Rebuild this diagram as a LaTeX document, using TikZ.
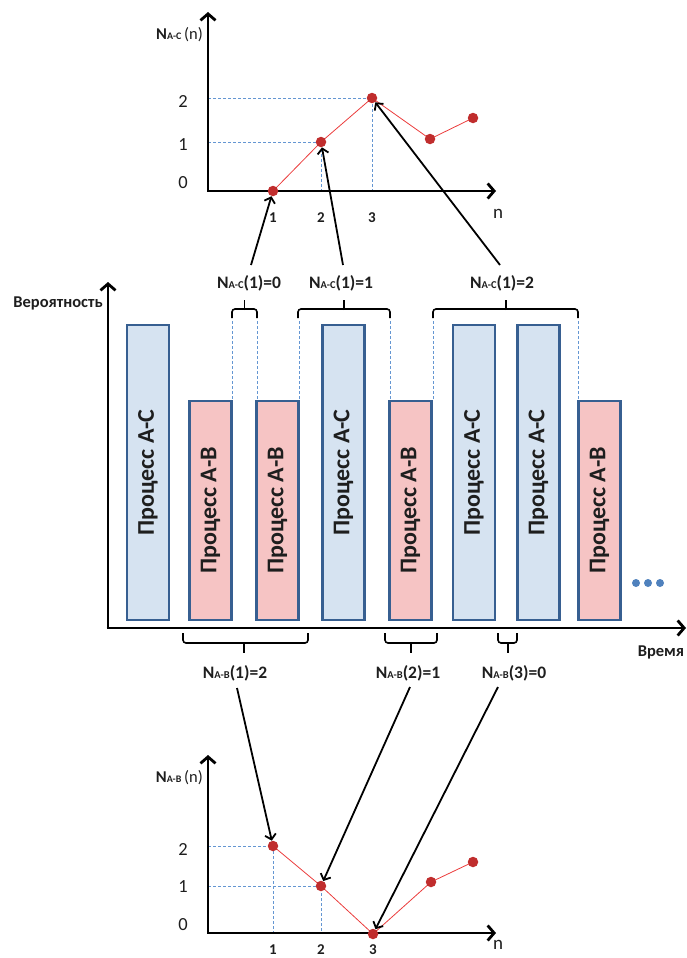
\documentclass[tikz,border=0pt]{standalone}
\usepackage{fontspec}
\setmainfont{Carlito}
\usetikzlibrary{arrows.meta}
\definecolor{barblue}{RGB}{214,227,241}
\definecolor{barpink}{RGB}{246,196,196}
\definecolor{baredge}{RGB}{55,95,145}
\definecolor{dotred}{RGB}{192,45,45}
\definecolor{linered}{RGB}{235,60,60}
\definecolor{guideblue}{RGB}{100,150,210}
\definecolor{txt}{RGB}{30,30,30}
\definecolor{ellblue}{RGB}{79,129,189}
\newcommand{\Nlab}[2]{{\bfseries N{\fontsize{10.5}{11}\selectfont #1}#2}}
\newcommand{\Nax}[1]{{\bfseries N{\fontsize{10}{11}\selectfont #1}}\,(n)}
\begin{document}
\begin{tikzpicture}[x=1pt,y=-1pt,
  axes/.style={line width=2.8pt, {Straight Barb[length=6.5pt,width=15pt]}-{Straight Barb[length=6.5pt,width=15pt]}},
  axisarrow/.style={line width=2.8pt, -{Straight Barb[length=6.5pt,width=15pt]}},
  conn/.style={line width=1.8pt, -{Straight Barb[length=5pt,width=11pt]}},
  guide/.style={draw=guideblue, line width=0.7pt, dash pattern=on 3pt off 2pt},
  redline/.style={draw=linered, line width=0.8pt},
  dot/.style={circle, fill=dotred, inner sep=0pt, minimum size=10.5pt},
  ell/.style={circle, fill=ellblue, inner sep=0pt, minimum size=8pt},
  barAC/.style={draw=baredge, line width=2.2pt, fill=barblue, rotate=90, inner sep=0pt,
     minimum width=295pt, minimum height=42pt, font=\fontsize{24}{24}\selectfont\bfseries, text=txt},
  barAB/.style={barAC, fill=barpink, minimum width=219pt},
  lab/.style={inner sep=0pt, font=\fontsize{17.5}{18}\selectfont, text=txt},
  brc/.style={line width=1.6pt, rounded corners=3pt},
  ticklab/.style={inner sep=0pt, font=\fontsize{18.5}{18}\selectfont, text=txt},
  xticklab/.style={inner sep=0pt, font=\fontsize{15}{15}\selectfont\bfseries, text=txt},
  axname/.style={inner sep=0pt, font=\fontsize{16.5}{17}\selectfont\bfseries, text=txt},
]
\useasboundingbox (0,0) rectangle (686,958);

% ---------------- top chart ----------------
\draw[guide] (208,98) -- (372,98) -- (372,191);
\draw[guide] (208,142) -- (321,142) -- (321,191);
\draw[axes] (208,12) -- (208,191) -- (496,191);
\coordinate (pt1) at (273,191);
\coordinate (pt2) at (321,142);
\coordinate (pt3) at (372,98);
\coordinate (pt4) at (430,139);
\coordinate (pt5) at (473,118);
\draw[redline] (pt1) -- (pt2) -- (pt3) -- (pt4) -- (pt5);
\node[dot] (t1) at (pt1) {};
\node[dot] (t2) at (pt2) {};
\node[dot] (t3) at (pt3) {};
\node[dot] (t4) at (pt4) {};
\node[dot] (t5) at (pt5) {};
\node[ticklab] (ty2) at (183,101) {2};
\node[ticklab] (ty1) at (183,145) {1};
\node[ticklab] (ty0) at (183,183) {0};
\node[xticklab] (tx1) at (273,218) {1};
\node[xticklab] (tx2) at (321,218) {2};
\node[xticklab] (tx3) at (372,218) {3};
\node[ticklab, font=\fontsize{19}{19}\selectfont] (tn) at (498,214) {n};
\node[inner sep=0pt, anchor=east, font=\fontsize{16.5}{17}\selectfont, text=txt] (tyname) at (203,35) {\Nax{A-C}};

% ---------------- middle chart ----------------
\draw[axisarrow] (108,628) -- (108,282);
\draw[axisarrow] (106.6,628) -- (686,628);
\node[axname] (prob) at (58,303) {Вероятность};
\node[axname] (time) at (661,652) {Время};

\node[barAC] (b1) at (148,472.5) {Процесс А-С};
\node[barAB] (b2) at (210.5,510.5) {Процесс А-В};
\node[barAB] (b3) at (277.5,510.5) {Процесс А-В};
\node[barAC] (b4) at (343.5,472.5) {Процесс А-С};
\node[barAB] (b5) at (410.5,510.5) {Процесс А-В};
\node[barAC] (b6) at (474,472.5) {Процесс А-С};
\node[barAC] (b7) at (538.5,472.5) {Процесс А-С};
\node[barAB] (b8) at (599.5,510.5) {Процесс А-В};
\node[ell] (e1) at (636,583) {};
\node[ell] (e2) at (648,583) {};
\node[ell] (e3) at (660,583) {};

% dashed guides from braces to bar tops
\foreach \xx in {232,257,299,390,433,578} {\draw[guide] (\xx,321) -- (\xx,400);}

% top braces
\draw[brc] (232,318) -- (232,309) -- (257,309) -- (257,318);
\draw[brc] (244.5,310) -- (244.5,300);
\draw[brc] (298,318) -- (298,309) -- (390,309) -- (390,318);
\draw[brc] (344,310) -- (344,300);
\draw[brc] (433,318) -- (433,309) -- (578,309) -- (578,318);
\draw[brc] (506,310) -- (506,300);

% bottom braces
\draw[brc] (183,633) -- (183,643) -- (308,643) -- (308,633);
\draw[brc] (244,642) -- (244,653);
\draw[brc] (385,633) -- (385,643) -- (437,643) -- (437,633);
\draw[brc] (411,642) -- (411,653);
\draw[brc] (498,633) -- (498,643) -- (517,643) -- (517,633);
\draw[brc] (508,642) -- (508,653);

% labels
\node[lab] (lac0) at (249,283) {\Nlab{A-C}{(1)=0}};
\node[lab] (lac1) at (341,283) {\Nlab{A-C}{(1)=1}};
\node[lab] (lac2) at (502,283) {\Nlab{A-C}{(1)=2}};
\node[lab] (lab1) at (235,673) {\Nlab{A-B}{(1)=2}};
\node[lab] (lab2) at (408,673) {\Nlab{A-B}{(2)=1}};
\node[lab] (lab3) at (514,673) {\Nlab{A-B}{(3)=0}};

% ---------------- bottom chart ----------------
\draw[guide] (208,846) -- (273,846) -- (273,933);
\draw[guide] (208,886) -- (321,886) -- (321,933);
\draw[axes] (208,755) -- (208,933) -- (496,933);
\coordinate (pb1) at (273,846);
\coordinate (pb2) at (321,886);
\coordinate (pb3) at (373,934);
\coordinate (pb4) at (431,882);
\coordinate (pb5) at (473,862);
\draw[redline] (pb1) -- (pb2) -- (pb3) -- (pb4) -- (pb5);
\node[dot] (u1) at (pb1) {};
\node[dot] (u2) at (pb2) {};
\node[dot] (u3) at (pb3) {};
\node[dot] (u4) at (pb4) {};
\node[dot] (u5) at (pb5) {};
\node[ticklab] (uy2) at (183,849) {2};
\node[ticklab] (uy1) at (183,887) {1};
\node[ticklab] (uy0) at (183,925) {0};
\node[xticklab] (ux1) at (273,949.5) {1};
\node[xticklab] (ux2) at (321,949.5) {2};
\node[xticklab] (ux3) at (373,949.5) {3};
\node[ticklab, font=\fontsize{19}{19}\selectfont] (un) at (498,945) {n};
\node[inner sep=0pt, anchor=east, font=\fontsize{16.5}{17}\selectfont, text=txt] (uyname) at (203,778) {\Nax{A-B}};

% ---------------- connectors ----------------
\coordinate (s0) at (251,265);
\coordinate (s1) at (343,265);
\coordinate (s2) at (500,265);
\coordinate (r1) at (237,688);
\coordinate (r2) at (410,687);
\coordinate (r3) at (498,687);
\draw[conn] (s0) -- (t1);
\draw[conn] (s1) -- (t2);
\draw[conn] (s2) -- (t3);
\draw[conn] (r1) -- (u1);
\draw[conn] (r2) -- (u2);
\draw[conn] (r3) -- (u3);
\end{tikzpicture}
\end{document}
